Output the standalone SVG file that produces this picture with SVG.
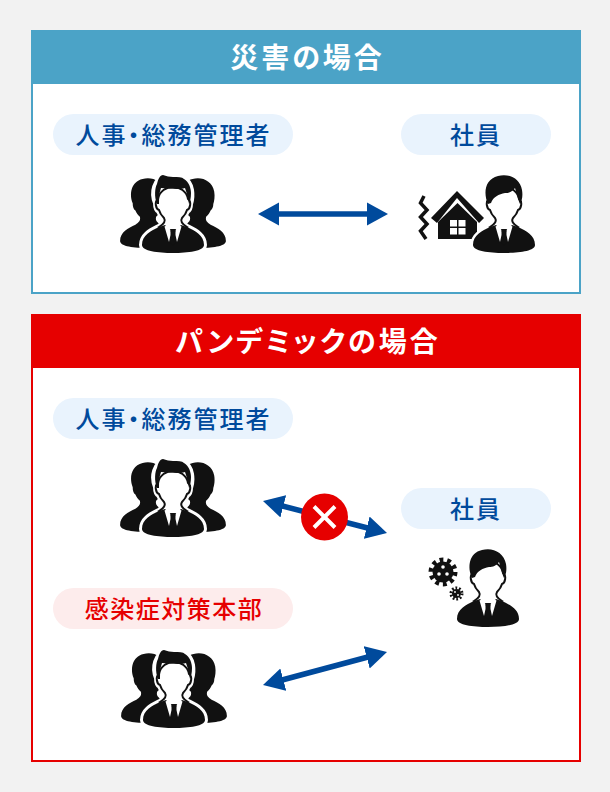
<svg xmlns="http://www.w3.org/2000/svg" xmlns:xlink="http://www.w3.org/1999/xlink" width="610" height="792" viewBox="0 0 610 792">
<style>
text{font-family:"Noto Sans CJK JP","Noto Sans",sans-serif;text-anchor:middle;font-feature-settings:"palt"}
.hd{font-size:28px;font-weight:700;fill:#fff;letter-spacing:3px}
.lb{font-size:24px;font-weight:500;fill:#004a9c;letter-spacing:2px}
.lr{fill:#e60000;letter-spacing:1.500px}
.pb{fill:#e9f3fd}.pr{fill:#fdecec}
.hair{fill:#111}
.conn{stroke:#004a9c;stroke-width:5.5;fill:none;marker-start:url(#ah);marker-end:url(#ah)}
</style>
<defs>
<marker id="ah" markerUnits="userSpaceOnUse" markerWidth="24" markerHeight="26" viewBox="0 -13 24 26" refX="9" refY="0" orient="auto-start-reverse"><path d="M0-11.500L21 0L0 11.500Z" fill="#004a9c"/></marker>
<path id="sil" d="M-17 28C-21 18-19 4-6 1C4-2 16 3 18 15C19 21 18 26 17 29C17 32 16 35 14 36C13 39 11 41 9 43C8 47 10 49 14 52C22 56 31 60 31 70C31 76 15 78 0 78C-15 78-31 76-31 70C-31 60-22 56-14 52C-10 49-8 47-9 43C-11 41-13 39-14 36C-16 35-17 32-17 28Z"/>
<g id="person">
<path d="M-15 24C-19 27-17 34-14 35C-13 39-11 41-9 43C-7 46-9 49-14 52L0 62L14 52C9 49 7 46 9 43C11 41 13 39 14 35C17 34 19 27 15 24C12 8-12 8-15 24Z" fill="#fff" stroke="#111" stroke-width="2"/>
<path d="M-31 70C-31 60-22 56-14 52L-8 50L0 58L8 50L14 52C22 56 31 60 31 70C31 76 15 78 0 78C-15 78-31 76-31 70Z" fill="#111"/>
<path d="M-8.500 51.500L-5.500 50L-2.500 55.500L-2.500 60L-4 67ZM8.500 51.500L5.500 50L2.500 55.500L2.500 60L4 67Z" fill="#fff"/>
<path d="M-3 54L3 54L1.500 59L3 67L0 71L-3 67L-1.500 59Z" fill="#111"/>
</g>
<path id="hair-side" class="hair" d="M-16 29C-21 18-19 4-6 1C4-2 16 3 18 15C19 21 18 26 16 29C14 24 13 20 11 13C8 17 5 18 1 18C-5 19-11 22-13 28Z"/>
<path id="hair-back" class="hair" d="M-16 29C-19 22-18 12-16 9C-15 4-13 0-10 0C-7 1-3 2 0 2C5 2 9 2 11 4C16 7 18 13 18 18C18 23 17 27 16 29C15 24 14 18 12 13C5 15-5 13-12 13C-14 18-14 24-14 29Z"/>
<g id="team">
<use href="#sil" transform="translate(-25 3) scale(.9)" fill="#111"/>
<use href="#sil" transform="translate(25 3) scale(.9)" fill="#111"/>
<use href="#sil" fill="#fff" stroke="#fff" stroke-width="6"/>
<use href="#person"/>
<use href="#hair-back"/>
</g>
</defs>
<rect width="610" height="792" fill="#f2f2f2"/>
<g id="panel-disaster">
<rect x="32" y="31" width="548" height="262" fill="#fff" stroke="#4ba3c7" stroke-width="2"/>
<rect x="31" y="30" width="550" height="54" fill="#4ba3c7"/>
<text class="hd" x="307.500" y="68">災害の場合</text>
</g>
<g id="panel-pandemic">
<rect x="32" y="315" width="548" height="446" fill="#fff" stroke="#e60000" stroke-width="2"/>
<rect x="31" y="314" width="550" height="54" fill="#e60000"/>
<text class="hd" x="308" y="352">パンデミックの場合</text>
</g>
<g id="connectors">
<line class="conn" x1="270" y1="214" x2="376" y2="214"/>
<line class="conn" x1="274.600" y1="504" x2="375.400" y2="530"/>
<line class="conn" x1="274.600" y1="682" x2="375.400" y2="655"/>
</g>
<g id="node-hr-1">
<rect class="pb" x="53" y="114" width="240" height="41" rx="20.500"/>
<text class="lb" x="173.500" y="144">人事・総務管理者</text>
<use href="#team" x="173" y="175"/>
</g>
<g id="node-staff-1">
<rect class="pb" x="401" y="114" width="150" height="41" rx="20.500"/>
<text class="lb" x="476" y="144">社員</text>
<path d="M424 196L420.500 203L427 210L420.500 217L427 224L420.500 231L426 239" fill="none" stroke="#111" stroke-width="3.500"/>
<path d="M431 218L457 191L484 218L479 223L457 198L437 223Z" fill="#111"/>
<path d="M438 222L457.500 203L477 222V239H438Z" fill="#111"/>
<path d="M450 220h7v6.500h-7zM458.500 220h7v6.500h-7zM450 228h7v6.500h-7zM458.500 228h7v6.500h-7z" fill="#fff"/>
<use href="#sil" transform="translate(504 175)" fill="#fff" stroke="#fff" stroke-width="5"/>
<use href="#person" x="504" y="175"/>
<use href="#hair-side" x="504" y="175"/>
</g>
<g id="node-hr-2">
<rect class="pb" x="53" y="398" width="240" height="41" rx="20.500"/>
<text class="lb" x="173.500" y="428">人事・総務管理者</text>
<use href="#team" x="173" y="459"/>
</g>
<g id="node-hq">
<rect class="pr" x="53" y="588" width="240" height="41" rx="20.500"/>
<text class="lb lr" x="174" y="618">感染症対策本部</text>
<use href="#team" x="174" y="650"/>
</g>
<g id="node-staff-2">
<rect class="pb" x="401" y="488" width="150" height="41" rx="20.500"/>
<text class="lb" x="476" y="518">社員</text>
<circle cx="443" cy="572" r="10.500" fill="#111"/>
<circle cx="443" cy="572" r="12" fill="none" stroke="#111" stroke-width="5" stroke-dasharray="3.770 3.770"/>
<g fill="#fff"><circle cx="443" cy="567" r="1.800"/><circle cx="439" cy="574" r="1.800"/><circle cx="447" cy="574" r="1.800"/></g>
<circle cx="456.500" cy="593.500" r="4.500" fill="#111"/>
<circle cx="456.500" cy="593.500" r="5.500" fill="none" stroke="#111" stroke-width="3" stroke-dasharray="1.730 1.730"/>
<g fill="#fff"><circle cx="455" cy="592" r=".9"/><circle cx="458" cy="595" r=".9"/></g>
<use href="#person" x="488" y="549"/>
<use href="#hair-side" x="488" y="549"/>
</g>
<g id="blocked">
<circle cx="324.500" cy="517" r="23.500" fill="#e60000"/>
<path d="M314 506.500L335 527.500M335 506.500L314 527.500" stroke="#fff" stroke-width="4" fill="none"/>
</g>
</svg>
